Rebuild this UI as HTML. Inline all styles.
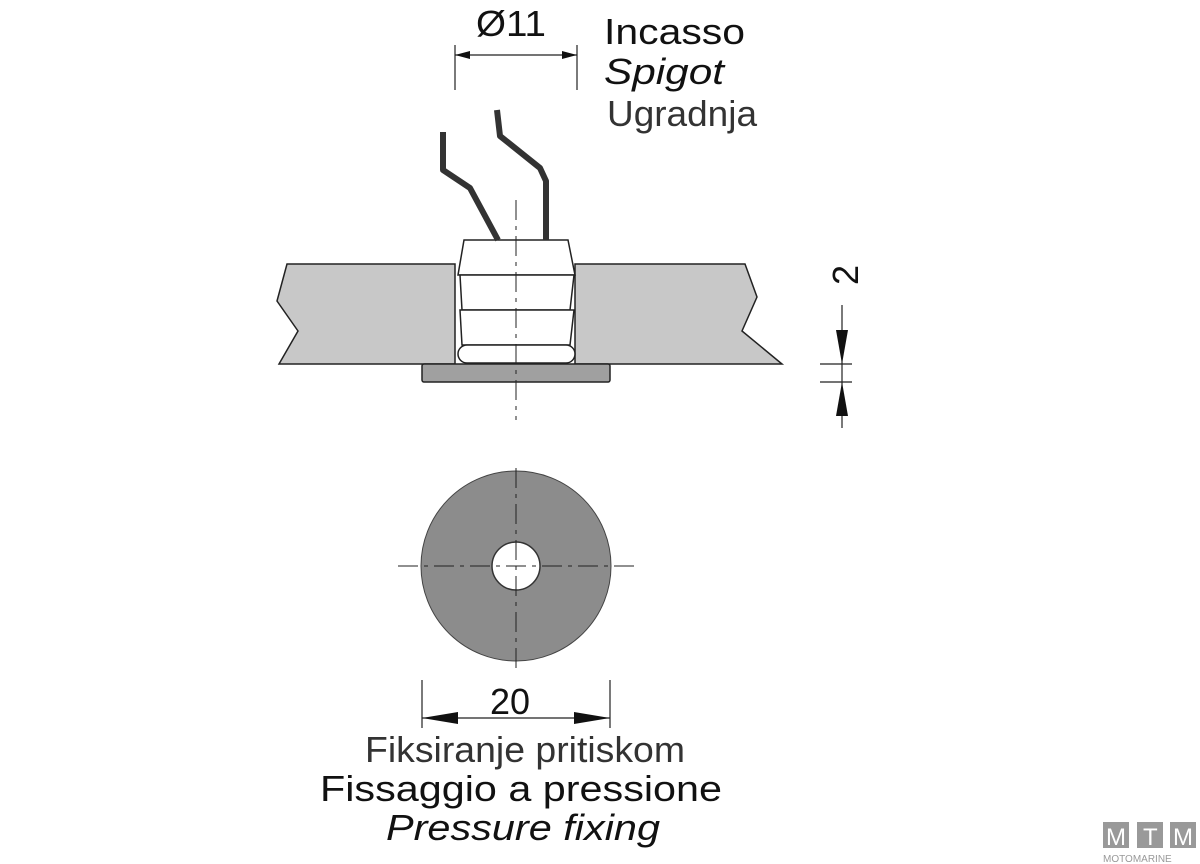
<html><body style="margin:0;background:#fff">
<svg width="1200" height="864" xmlns="http://www.w3.org/2000/svg" font-family="Liberation Sans, sans-serif">
<g stroke="#222" stroke-width="1.5">
<path d="M287,264 L455,264 L455,364 L279,364 L298,331 L277,301 Z" fill="#c8c8c8"/>
<path d="M575,264 L745,264 L757,297 L742,331 L782,364 L575,364 Z" fill="#c8c8c8"/>
<rect x="422" y="364" width="188" height="18" rx="2" fill="#a0a0a0"/>
<path d="M464,240 L568,240 L575,275 L458,275 Z" fill="#fff"/>
<path d="M460,275 L574,275 L570,310 L462,310 Z" fill="#fff"/>
<path d="M460,310 L574,310 L570,345 L462,345 Z" fill="#fff"/>
<rect x="458" y="345" width="117" height="18" rx="9" fill="#fff"/>
</g>
<g stroke="#333" stroke-width="6" fill="none" stroke-linejoin="round">
<path d="M443,132 L443,170 L470,188 L498,240"/>
<path d="M497,110 L500,136 L540,168 L546,181 L546,240"/>
</g>
<g stroke="#222" stroke-width="1" stroke-dasharray="20,6,4,6">
<line x1="516" y1="200" x2="516" y2="420"/>
<line x1="398" y1="566" x2="634" y2="566"/>
</g>
<circle cx="516" cy="566" r="95" fill="#8c8c8c" stroke="#444"/>
<circle cx="516" cy="566" r="24" fill="#fff" stroke="#333" stroke-width="1.5"/>
<line x1="516" y1="468" x2="516" y2="668" stroke="#222" stroke-dasharray="20,6,4,6"/>
<line x1="398" y1="566" x2="634" y2="566" stroke="#222" stroke-dasharray="20,6,4,6"/>
<g stroke="#222" stroke-width="1.2">
<line x1="455" y1="45" x2="455" y2="90"/><line x1="577" y1="45" x2="577" y2="90"/>
<line x1="455" y1="55" x2="577" y2="55"/>
<line x1="422" y1="680" x2="422" y2="728"/><line x1="610" y1="680" x2="610" y2="728"/>
<line x1="422" y1="718" x2="610" y2="718"/>
<line x1="820" y1="364" x2="852" y2="364"/><line x1="820" y1="382" x2="852" y2="382"/>
<line x1="842" y1="305" x2="842" y2="428"/>
</g>
<g fill="#111">
<path d="M455,55 L470,51 L470,59 Z"/><path d="M577,55 L562,51 L562,59 Z"/>
<path d="M422,718 L458,712 L458,724 Z"/><path d="M610,718 L574,712 L574,724 Z"/>
<path d="M842,364 L836,330 L848,330 Z"/><path d="M842,382 L836,416 L848,416 Z"/>
</g>
<g fill="#111" font-size="36" lengthAdjust="spacingAndGlyphs">
<text x="476" y="36" textLength="70" lengthAdjust="spacingAndGlyphs">Ø11</text>
<text x="604" y="44" textLength="141" lengthAdjust="spacingAndGlyphs">Incasso</text>
<text x="604" y="84" font-style="italic" textLength="120" lengthAdjust="spacingAndGlyphs">Spigot</text>
<text x="607" y="126" fill="#333" textLength="150" lengthAdjust="spacingAndGlyphs">Ugradnja</text>
<text x="490" y="714" textLength="40" lengthAdjust="spacingAndGlyphs">20</text>
<text transform="translate(858,285) rotate(-90)">2</text>
<text x="365" y="762" fill="#333" textLength="320" lengthAdjust="spacingAndGlyphs">Fiksiranje pritiskom</text>
<text x="320" y="801" textLength="402" lengthAdjust="spacingAndGlyphs">Fissaggio a pressione</text>
<text x="386" y="840" font-style="italic" textLength="274" lengthAdjust="spacingAndGlyphs">Pressure fixing</text>
</g>
<g fill="#999"><rect x="1103" y="822" width="26" height="26"/><rect x="1137" y="822" width="26" height="26"/><rect x="1170" y="822" width="26" height="26"/></g>
<g fill="#fff" font-size="24"><text x="1106" y="845">M</text><text x="1143" y="845">T</text><text x="1173" y="845">M</text></g>
<text x="1103" y="862" font-size="10" fill="#999">MOTOMARINE</text>
</svg>
</body></html>
